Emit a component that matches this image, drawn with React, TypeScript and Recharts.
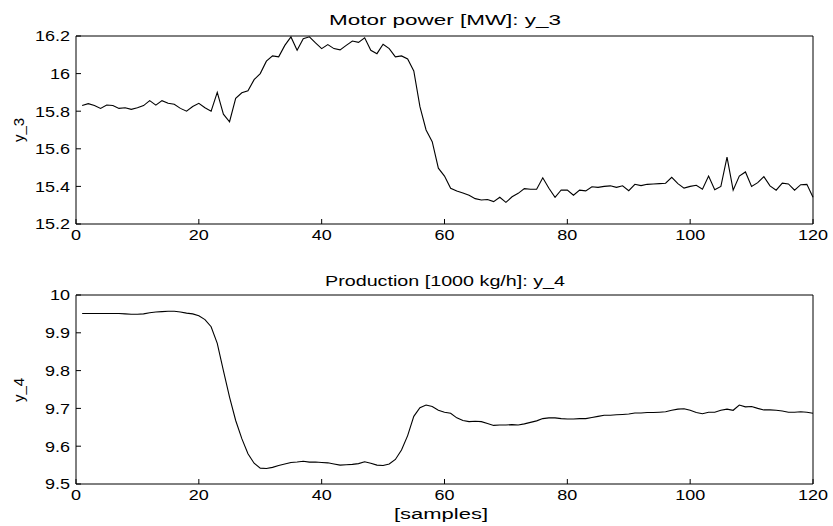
import { Line, LineChart, XAxis, YAxis } from "recharts"

// values, samples 1..120
const motorPower = [
  15.83, 15.84, 15.83, 15.815, 15.833, 15.83, 15.815, 15.818, 15.81, 15.818,
  15.83, 15.856, 15.832, 15.856, 15.842, 15.837, 15.815, 15.8, 15.825, 15.842,
  15.818, 15.8, 15.9, 15.784, 15.744, 15.868, 15.898, 15.909, 15.968, 16.0,
  16.066, 16.094, 16.089, 16.15, 16.195, 16.124, 16.186, 16.196, 16.163, 16.133,
  16.154, 16.133, 16.126, 16.15, 16.173, 16.166, 16.19, 16.124, 16.106, 16.156,
  16.133, 16.089, 16.094, 16.078, 16.014, 15.824, 15.7, 15.638, 15.497, 15.455,
  15.39, 15.375, 15.365, 15.353, 15.335, 15.328, 15.33, 15.319, 15.342, 15.315,
  15.345, 15.363, 15.388, 15.385, 15.385, 15.446, 15.39, 15.342, 15.381, 15.38,
  15.353, 15.38, 15.376, 15.398, 15.395, 15.4, 15.403, 15.395, 15.403, 15.377,
  15.411, 15.404, 15.411, 15.413, 15.415, 15.417, 15.448, 15.415, 15.391, 15.4,
  15.406, 15.385, 15.455, 15.382, 15.4, 15.556, 15.38, 15.455, 15.477, 15.4,
  15.42, 15.452, 15.403, 15.38, 15.417, 15.413, 15.38, 15.409, 15.411, 15.342,
]

const production = [
  9.951, 9.951, 9.951, 9.951, 9.951, 9.951, 9.951, 9.95, 9.949, 9.949,
  9.95, 9.953, 9.955, 9.956, 9.957, 9.957, 9.955, 9.952, 9.95, 9.945,
  9.935, 9.916, 9.872, 9.8, 9.73, 9.668, 9.62, 9.58, 9.555, 9.542,
  9.541, 9.544, 9.549, 9.553, 9.557, 9.558, 9.56, 9.558, 9.558, 9.557,
  9.556, 9.553, 9.55, 9.551, 9.552, 9.554, 9.559, 9.555, 9.55, 9.549,
  9.553, 9.565, 9.59, 9.628, 9.679, 9.702, 9.709, 9.705, 9.695, 9.69,
  9.687, 9.675, 9.668, 9.665, 9.666, 9.665, 9.66, 9.655, 9.656, 9.656,
  9.657, 9.656, 9.659, 9.663, 9.667, 9.673, 9.675, 9.675, 9.673, 9.672,
  9.672, 9.673, 9.673, 9.676, 9.679, 9.682, 9.682, 9.683, 9.684, 9.685,
  9.688, 9.688, 9.689, 9.689, 9.69, 9.691, 9.695, 9.698, 9.699, 9.695,
  9.689, 9.686, 9.69, 9.69, 9.695, 9.698, 9.695, 9.709, 9.704, 9.705,
  9.7, 9.696, 9.696, 9.695, 9.693, 9.69, 9.69, 9.691, 9.69, 9.687,
]

const xTicks = [0, 20, 40, 60, 80, 100, 120]
const powerTicks = [15.2, 15.4, 15.6, 15.8, 16, 16.2]
const productionTicks = [9.5, 9.6, 9.7, 9.8, 9.9, 10]

const powerData = motorPower.map((v, i) => ({ sample: i + 1, value: v }))
const productionData = production.map((v, i) => ({ sample: i + 1, value: v }))

const font = "'Liberation Sans', Arial, Helvetica, sans-serif"
const fmt = (v: number) => String(+v.toFixed(1))

// the reference text is a bit stretched sideways
function StretchTick(props: any) {
  const { x, y, payload, textAnchor, verticalAnchor } = props
  const dy = verticalAnchor === "start" ? "0.71em" : "0.355em"
  return (
    <text
      x={x}
      y={y}
      dy={dy}
      textAnchor={textAnchor}
      fontSize={15}
      fontFamily={font}
      fill="#000"
      transform={`translate(${x} ${y}) scale(1.2 1) translate(${-x} ${-y})`}
    >
      {fmt(payload.value)}
    </text>
  )
}

type PanelProps = {
  data: { sample: number; value: number }[]
  yTicks: number[]
  marginTop: number
  marginBottom: number
}

function Panel({ data, yTicks, marginTop, marginBottom }: PanelProps) {
  const domain: [number, number] = [yTicks[0], yTicks[yTicks.length - 1]]
  return (
    <LineChart
      width={833}
      height={263}
      data={data}
      margin={{ top: marginTop, right: 10, bottom: marginBottom, left: 16 }}
    >
      <XAxis
        xAxisId="b"
        type="number"
        dataKey="sample"
        domain={[0, 120]}
        ticks={xTicks}
        height={30}
        stroke="#000"
        tickSize={-5}
        tickMargin={10}
        tick={<StretchTick />}
        interval={0}
      />
      <XAxis
        xAxisId="t"
        orientation="top"
        type="number"
        dataKey="sample"
        domain={[0, 120]}
        ticks={xTicks}
        height={10}
        stroke="#000"
        tickSize={-5}
        tick={false}
      />
      <YAxis
        yAxisId="l"
        type="number"
        domain={domain}
        ticks={yTicks}
        width={60}
        stroke="#000"
        tickSize={-5}
        tickMargin={11}
        tick={<StretchTick />}
        interval={0}
      />
      <YAxis
        yAxisId="r"
        orientation="right"
        type="number"
        domain={domain}
        ticks={yTicks}
        width={10}
        stroke="#000"
        tickSize={-5}
        tick={false}
      />
      <Line
        xAxisId="b"
        yAxisId="l"
        type="linear"
        dataKey="value"
        stroke="#000"
        strokeWidth={1.1}
        dot={false}
        activeDot={false}
        isAnimationActive={false}
      />
    </LineChart>
  )
}

export default function App() {
  return (
    <div style={{ position: "absolute", left: 0, top: 0, width: 833, height: 526, background: "#fff" }}>
      <div style={{ position: "absolute", left: 0, top: 0 }}>
        <Panel data={powerData} yTicks={powerTicks} marginTop={26} marginBottom={9} />
      </div>
      <div style={{ position: "absolute", left: 0, top: 263 }}>
        <Panel data={productionData} yTicks={productionTicks} marginTop={22} marginBottom={12} />
      </div>
      <svg
        width={833}
        height={526}
        style={{ position: "absolute", left: 0, top: 0, pointerEvents: "none" }}
        fontFamily={font}
        fill="#000"
      >
        <text x={445} y={25} textAnchor="middle" fontSize={14} textLength={232} lengthAdjust="spacingAndGlyphs">
          Motor power [MW]: y_3
        </text>
        <text x={445} y={286} textAnchor="middle" fontSize={14} textLength={240} lengthAdjust="spacingAndGlyphs">
          Production [1000 kg/h]: y_4
        </text>
        <text x={441} y={519} textAnchor="middle" fontSize={14} textLength={94} lengthAdjust="spacingAndGlyphs">
          [samples]
        </text>
        <text x={24} y={130} textAnchor="middle" fontSize={15} transform="rotate(-90 24 130)">
          y_3
        </text>
        <text x={24} y={390} textAnchor="middle" fontSize={15} transform="rotate(-90 24 390)">
          y_4
        </text>
      </svg>
    </div>
  )
}
